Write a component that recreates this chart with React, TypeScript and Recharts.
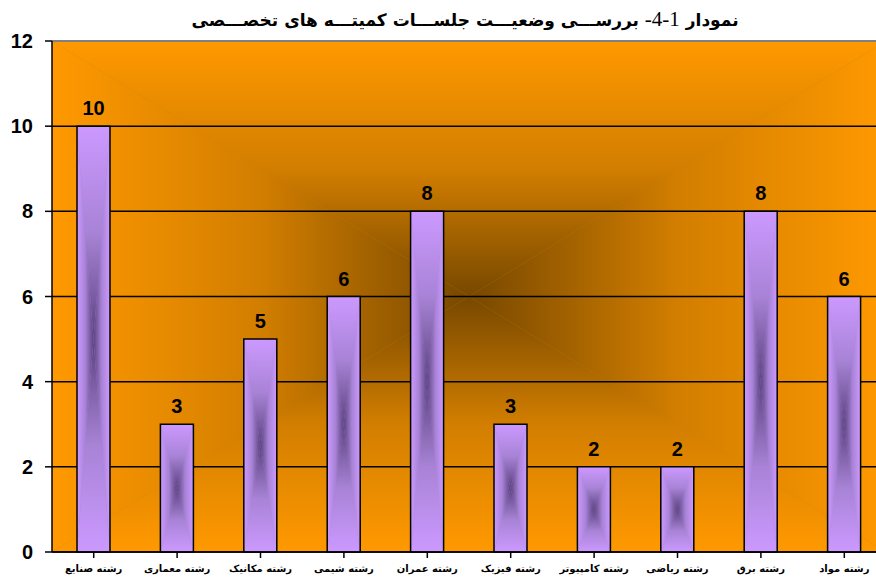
import React from "react";
import {
  BarChart,
  Bar,
  XAxis,
  YAxis,
  CartesianGrid,
  LabelList,
  ReferenceLine,
} from "recharts";

const categories = [
  "رشته صنایع",
  "رشته معماری",
  "رشته مکانیک",
  "رشته شیمی",
  "رشته عمران",
  "رشته فیزیک",
  "رشته کامپیوتر",
  "رشته ریاضی",
  "رشته برق",
  "رشته مواد",
];
const sessions = [10, 3, 5, 6, 8, 3, 2, 2, 8, 6];
const yTicks = [0, 2, 4, 6, 8, 10, 12];

const data = categories.map((name, i) => ({ name, value: sessions[i] }));

const persianFont = "'DejaVu Sans', 'Noto Sans', sans-serif";
const latinFont = "'Liberation Sans', Arial, sans-serif";

function RectGradientPattern({
  id,
  edge,
  mid,
  center,
}: {
  id: string;
  edge: string;
  mid: string;
  center: string;
}) {
  const stops = (
    <>
      <stop offset="0" stopColor={edge} />
      <stop offset="0.5" stopColor={mid} />
      <stop offset="1" stopColor={center} />
    </>
  );
  return (
    <>
      <linearGradient id={`${id}-t`} x1="0" y1="0" x2="0" y2="1">
        {stops}
      </linearGradient>
      <linearGradient id={`${id}-b`} x1="0" y1="1" x2="0" y2="0">
        {stops}
      </linearGradient>
      <linearGradient id={`${id}-l`} x1="0" y1="0" x2="1" y2="0">
        {stops}
      </linearGradient>
      <linearGradient id={`${id}-r`} x1="1" y1="0" x2="0" y2="0">
        {stops}
      </linearGradient>
      <pattern
        id={id}
        patternUnits="objectBoundingBox"
        patternContentUnits="objectBoundingBox"
        x="0"
        y="0"
        width="1"
        height="1"
      >
        <rect x="0" y="0" width="1" height="1" fill={mid} />
        <polygon points="0,0 1,0 0.5,0.5" fill={`url(#${id}-t)`} />
        <polygon points="0,1 1,1 0.5,0.5" fill={`url(#${id}-b)`} />
        <polygon points="0,0 0,1 0.5,0.5" fill={`url(#${id}-l)`} />
        <polygon points="1,0 1,1 0.5,0.5" fill={`url(#${id}-r)`} />
      </pattern>
    </>
  );
}

export default function App() {
  return (
    <div
      style={{
        position: "fixed",
        left: 0,
        top: 0,
        width: 876,
        height: 580,
        overflow: "hidden",
        background: "#ffffff",
      }}
    >
      <div
        dir="rtl"
        style={{
          position: "absolute",
          left: 0,
          width: 930,
          top: 6,
          textAlign: "center",
          fontFamily: persianFont,
          fontWeight: "bold",
          fontSize: 17,
          color: "#000",
          lineHeight: "26px",
          whiteSpace: "nowrap",
        }}
      >
        نمودار{" "}
        <span
          style={{
            fontFamily: "'Liberation Serif', 'Times New Roman', serif",
            fontWeight: "normal",
            fontSize: 21,
          }}
        >
          1-4-
        </span>{" "}
        بررســـی وضعیـــت جلســـات کمیتـــه های تخصـــصی
      </div>
      <div style={{ position: "absolute", left: 0, top: 0 }}>
        <BarChart
          width={900}
          height={580}
          data={data}
          margin={{ top: 41, right: 14, bottom: 0, left: 0 }}
          barSize={33}
        >
          <defs>
            <RectGradientPattern
              id="bgPat"
              edge="#FF9900"
              mid="#D27E00"
              center="#774800"
            />
            <RectGradientPattern
              id="barPat"
              edge="#CC99FF"
              mid="#A883D6"
              center="#5B4280"
            />
          </defs>
          <CartesianGrid
            vertical={false}
            stroke="#000"
            strokeWidth={1.5}
            fill="url(#bgPat)"
            fillOpacity={1}
          />
          <XAxis
            dataKey="name"
            axisLine={{ stroke: "#000", strokeWidth: 1.5 }}
            tickLine={{ stroke: "#000", strokeWidth: 1.5 }}
            tickSize={6}
            tickMargin={7}
            height={28}
            interval={0}
            tick={{
              fill: "#000",
              fontSize: 10,
              fontWeight: "bold",
              fontFamily: persianFont,
            }}
          />
          <YAxis
            domain={[0, 12]}
            ticks={yTicks}
            width={52}
            axisLine={{ stroke: "#000", strokeWidth: 1.5 }}
            tickLine={{ stroke: "#000", strokeWidth: 1.5 }}
            tickSize={7}
            tickMargin={12}
            tick={{
              fill: "#000",
              fontSize: 20,
              fontWeight: "bold",
              fontFamily: latinFont,
            }}
          />
          <ReferenceLine y={12} stroke="#808080" strokeWidth={2} />
          <Bar
            dataKey="value"
            fill="url(#barPat)"
            stroke="#000"
            strokeWidth={1.5}
            isAnimationActive={false}
          >
            <LabelList
              dataKey="value"
              position="top"
              offset={11}
              fill="#000"
              fontSize={20}
              fontWeight="bold"
              fontFamily={latinFont}
            />
          </Bar>
        </BarChart>
      </div>
    </div>
  );
}
